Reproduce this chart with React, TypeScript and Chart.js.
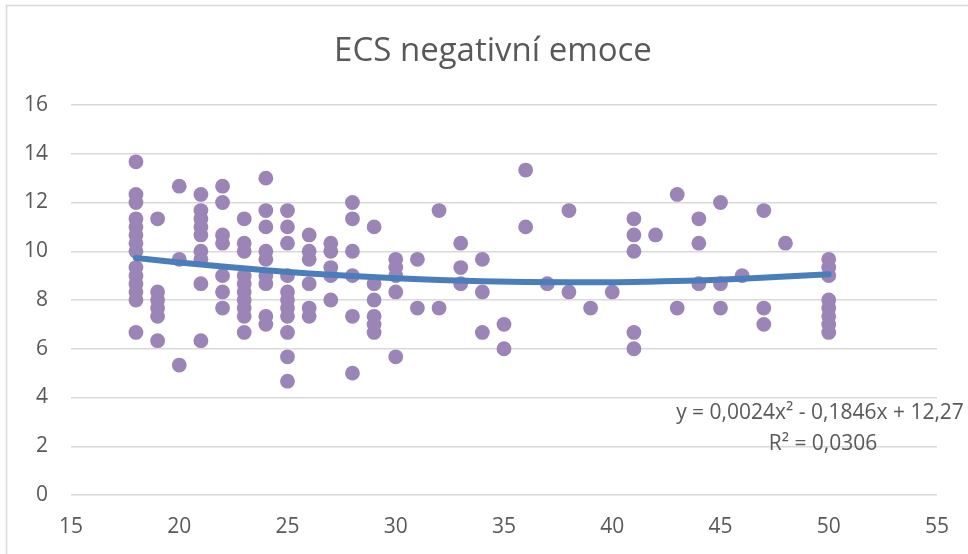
import React, { useEffect, useRef } from 'react';
import { Chart, registerables } from 'chart.js';

Chart.register(...registerables);

const chartTitle = 'ECS negativní emoce';

const ageColumns = [18, 19, 20, 21, 22, 23, 24, 25, 26, 27, 28, 29, 30, 31, 32, 33, 34, 35, 36, 37, 38, 39, 40, 41, 42, 43, 44, 45, 46, 47, 48, 50];

const scoresByAge = [
  [13.67, 12.33, 12, 11.33, 11, 10.67, 10.33, 10, 9.33, 9, 8.67, 8.33, 8, 6.67],
  [11.33, 8.33, 8, 7.67, 7.33, 6.33],
  [12.67, 9.67, 5.33],
  [12.33, 11.67, 11.33, 11, 10.67, 10, 9.67, 8.67, 6.33],
  [12.67, 12, 10.67, 10.33, 9, 8.33, 7.67],
  [11.33, 10.33, 10, 9, 8.67, 8.33, 8, 7.67, 7.33, 6.67],
  [13, 11.67, 11, 10, 9.67, 9, 8.67, 7.33, 7],
  [11.67, 11, 10.33, 9, 8.33, 8, 7.67, 7.33, 6.67, 5.67, 4.67],
  [10.67, 10, 9.67, 8.67, 7.67, 7.33],
  [10.33, 10, 9.33, 9, 8],
  [12, 11.33, 10, 9, 7.33, 5],
  [11, 8.67, 8, 7.33, 7, 6.67],
  [9.67, 9.33, 9, 8.33, 5.67],
  [9.67, 7.67],
  [11.67, 7.67],
  [10.33, 9.33, 8.67],
  [9.67, 8.33, 6.67],
  [7, 6],
  [13.33, 11],
  [8.67],
  [11.67, 8.33],
  [7.67],
  [8.33],
  [11.33, 10.67, 10, 6.67, 6],
  [10.67],
  [12.33, 7.67],
  [11.33, 10.33, 8.67],
  [12, 8.67, 7.67],
  [9],
  [11.67, 7.67, 7],
  [10.33],
  [9.67, 9.33, 9, 8, 7.67, 7.33, 7, 6.67],
];

const trendX = [18, 20, 22, 24, 26, 28, 30, 32, 34, 36, 38, 40, 42, 44, 46, 48, 50];
const trendY = [9.72, 9.54, 9.37, 9.22, 9.09, 8.98, 8.89, 8.82, 8.77, 8.74, 8.73, 8.73, 8.76, 8.8, 8.87, 8.96, 9.06];

const equationLines = ['y = 0,0024x\u00B2 - 0,1846x + 12,27', 'R\u00B2 = 0,0306'];

const xMin = 15;
const xMax = 55;
const xStep = 5;
const yMin = 0;
const yMax = 16;
const yStep = 2;

const FONT = '"Open Sans", "Noto Sans", sans-serif';
const TEXT = '#595959';

const decorPlugin = {
  id: 'decor',
  beforeDraw(chart: any) {
    const ctx = chart.ctx;
    ctx.save();
    ctx.fillStyle = '#ffffff';
    ctx.fillRect(0, 0, chart.width, chart.height);
    ctx.strokeStyle = '#d9d9d9';
    ctx.lineWidth = 1.5;
    ctx.beginPath();
    ctx.moveTo(6.5, chart.height);
    ctx.lineTo(6.5, 5.5);
    ctx.lineTo(chart.width, 5.5);
    ctx.stroke();
    ctx.restore();
  },
  afterDraw(chart: any) {
    const ctx = chart.ctx;
    ctx.save();
    ctx.fillStyle = TEXT;
    ctx.textAlign = 'center';
    ctx.textBaseline = 'alphabetic';
    ctx.font = `33px ${FONT}`;
    ctx.fillText(chartTitle, 493, 61);
    ctx.font = `21px ${FONT}`;
    ctx.fillText(equationLines[0], 820, 419);
    ctx.fillText(equationLines[1], 823, 450);
    ctx.restore();
  },
};

export default function App() {
  const canvasRef = useRef<HTMLCanvasElement | null>(null);

  useEffect(() => {
    const canvas = canvasRef.current;
    if (!canvas) return;
    const points: { x: number; y: number }[] = [];
    ageColumns.forEach((age, i) => {
      scoresByAge[i].forEach((s) => points.push({ x: age, y: s }));
    });
    const trend = trendX.map((x, i) => ({ x, y: trendY[i] }));

    const chart = new Chart(canvas, {
      type: 'scatter',
      data: {
        datasets: [
          {
            type: 'line',
            label: 'Trend',
            data: trend,
            borderColor: '#4a7ebb',
            borderWidth: 6,
            borderCapStyle: 'round',
            pointRadius: 0,
            fill: false,
            cubicInterpolationMode: 'monotone',
            order: 0,
          } as any,
          {
            label: 'ECS negativní emoce',
            data: points,
            backgroundColor: '#9a85b6',
            borderWidth: 0,
            pointRadius: 7.4,
            pointHoverRadius: 7.4,
            order: 1,
          },
        ],
      },
      options: {
        responsive: false,
        devicePixelRatio: 1,
        animation: false,
        layout: { padding: { top: 105, right: 31, bottom: 0, left: 0 } },
        plugins: {
          legend: { display: false },
          title: { display: false },
          tooltip: { enabled: false },
        },
        scales: {
          x: {
            type: 'linear',
            min: xMin,
            max: xMax,
            grid: { display: false, drawTicks: false },
            border: { display: false },
            ticks: {
              stepSize: xStep,
              padding: 19,
              color: TEXT,
              font: { family: FONT, size: 21 },
              maxRotation: 0,
            },
            afterFit(scale: any) {
              scale.height = 59;
            },
          },
          y: {
            type: 'linear',
            min: yMin,
            max: yMax,
            grid: { color: '#d9d9d9', lineWidth: 1.5, drawTicks: false },
            border: { display: false },
            ticks: {
              stepSize: yStep,
              padding: 23,
              color: TEXT,
              font: { family: FONT, size: 21 },
            },
            afterFit(scale: any) {
              scale.width = 71;
            },
          },
        },
      },
      plugins: [decorPlugin],
    });
    return () => chart.destroy();
  }, []);

  return (
    <div style={{ position: 'absolute', left: 0, top: 0, width: 968, height: 554 }}>
      <canvas ref={canvasRef} width={968} height={554} style={{ display: 'block' }} />
    </div>
  );
}
